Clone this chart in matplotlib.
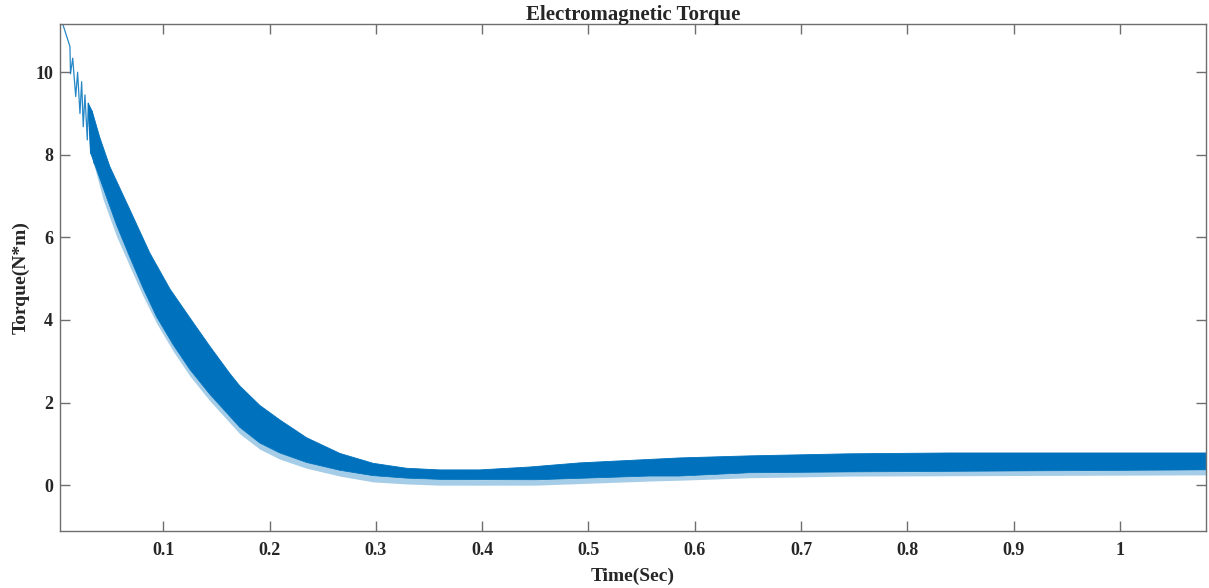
import matplotlib.pyplot as plt

# first few torque cycles, read as peak/dip pairs (time in s, torque in N*m)
t_start = [0.0, 0.0122, 0.0127, 0.0148, 0.0176, 0.0194, 0.0216, 0.0232, 0.0247,
           0.0263, 0.0285, 0.0294, 0.0317, 0.0332, 0.0348]
tq_start = [11.6, 10.62, 9.96, 10.34, 9.41, 10.0, 9.0, 9.77, 8.68,
            9.45, 8.36, 9.25, 8.04, 9.05, 7.80]

# upper edge of the ripple band
t_up = [0.0294, 0.0332, 0.0404, 0.0498, 0.0686, 0.0874, 0.1063, 0.1251, 0.1439,
        0.1627, 0.1721, 0.1909, 0.2097, 0.2348, 0.2661, 0.2974, 0.3288, 0.3601,
        0.3977, 0.4447, 0.4918, 0.5858, 0.6516, 0.7457, 0.8397, 1.081]
tq_up = [9.25, 9.05, 8.41, 7.71, 6.67, 5.62, 4.75, 4.05, 3.36,
         2.70, 2.40, 1.93, 1.58, 1.15, 0.77, 0.53, 0.41, 0.37,
         0.37, 0.44, 0.54, 0.66, 0.71, 0.76, 0.78, 0.78]

# lower edge of the dense band, and the lowest spikes / pale strands below it
t_low = [0.0317, 0.0435, 0.0561, 0.0686, 0.0811, 0.0937, 0.1094, 0.1251, 0.1439,
         0.1721, 0.1909, 0.2097, 0.2348, 0.2661, 0.2974, 0.3288, 0.3601, 0.4500,
         0.5576, 0.5858, 0.6516, 0.7457, 1.081]
tq_low = [8.04, 7.20, 6.30, 5.52, 4.77, 4.08, 3.40, 2.80, 2.20,
          1.40, 1.02, 0.78, 0.55, 0.36, 0.23, 0.17, 0.14, 0.13,
          0.22, 0.22, 0.30, 0.32, 0.37]
tq_spike = [8.04, 6.91, 6.02, 5.29, 4.57, 3.92, 3.24, 2.64, 2.04,
            1.24, 0.87, 0.63, 0.41, 0.22, 0.08, 0.03, 0.00, 0.00,
            0.10, 0.12, 0.18, 0.22, 0.25]

blue = '#0072BD'
grey = '#6e6e6e'
dark = '#262626'

plt.rcParams['font.family'] = 'Liberation Serif'
plt.rcParams['font.weight'] = 'bold'

fig = plt.figure(figsize=(12.09, 5.88), dpi=100)
ax = fig.add_axes([0.0496, 0.0969, 0.9479, 0.8618])

ax.fill_between(t_low, tq_spike, tq_low, color=blue, alpha=0.35, lw=0)
ax.fill(t_up + t_low[::-1], tq_up + tq_low[::-1], color=blue, lw=0.6, ec=blue)
ax.plot(t_start, tq_start, color=blue, lw=0.9, alpha=0.85)

ax.set_xlim(0.0028, 1.081)
ax.set_ylim(-1.11, 11.16)
ax.set_xticks([0.1, 0.2, 0.3, 0.4, 0.5, 0.6, 0.7, 0.8, 0.9, 1.0])
ax.set_xticklabels(['0.1', '0.2', '0.3', '0.4', '0.5', '0.6', '0.7', '0.8', '0.9', '1'])
ax.set_yticks([0, 2, 4, 6, 8, 10])

ax.tick_params(direction='in', length=7.5, width=1.0, color=grey, labelsize=13,
               top=True, right=True, pad=5)
ax.tick_params(axis='x', pad=8)
for s in ax.spines.values():
    s.set_color(grey)
    s.set_linewidth(1.0)
for lab in ax.get_xticklabels() + ax.get_yticklabels():
    lab.set_fontweight('bold')
    lab.set_color(dark)

ax.set_title('Electromagnetic Torque', fontsize=15, fontweight='bold', pad=3, color=dark)
ax.set_xlabel('Time(Sec)', fontsize=14, fontweight='bold', labelpad=6, color=dark)
ax.set_ylabel('Torque(N*m)', fontsize=14, fontweight='bold', labelpad=4, color=dark)

fig.savefig('out.png', dpi=100)
